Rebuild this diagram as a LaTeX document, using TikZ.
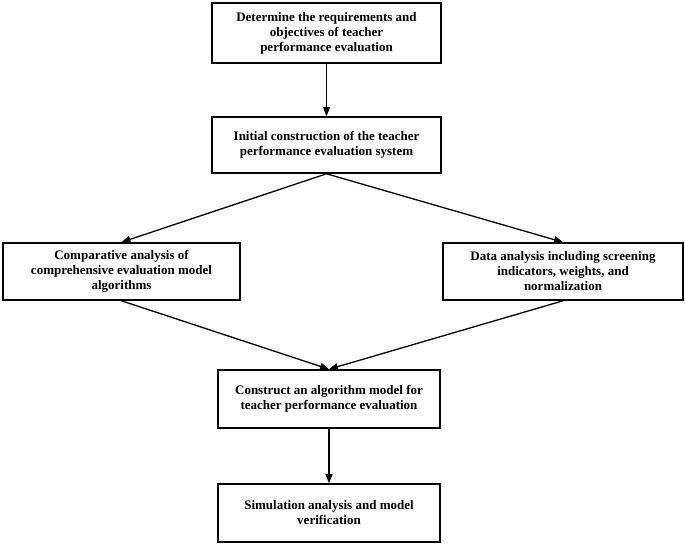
\documentclass[tikz,border=0pt]{standalone}
\usepackage{fontspec}
\setmainfont{Liberation Serif}
\usetikzlibrary{arrows.meta}
\begin{document}
\begin{tikzpicture}[x=1pt,y=-1pt,
  box/.style={draw,line width=1.6pt,inner sep=0pt,align=center,font=\fontsize{13}{15}\selectfont\bfseries},
  arr/.style={line width=1.3pt,-{Triangle[length=9pt,width=7pt]}}]
\useasboundingbox (0,0) rectangle (685,545);
\node[box,minimum width=229pt,minimum height=60pt] (a) at (326.5,33) {Determine the requirements and\\objectives of teacher\\performance evaluation};
\node[box,minimum width=229pt,minimum height=56pt] (b) at (326.5,145) {Initial construction of the teacher\\performance evaluation system};
\node[box,minimum width=237pt,minimum height=57pt] (c) at (121.5,271.5) {Comparative analysis of\\comprehensive evaluation model\\algorithms};
\node[box,minimum width=240pt,minimum height=57pt] (d) at (563,271.5) {Data analysis including screening\\indicators, weights, and\\normalization};
\node[box,minimum width=222pt,minimum height=58pt] (e) at (329,399) {Construct an algorithm model for\\teacher performance evaluation};
\node[box,minimum width=222pt,minimum height=58pt] (f) at (329,513) {Simulation analysis and model\\verification};
\draw[arr] (a.south) -- (b.north);
\draw[arr] (b.south) -- (c.north);
\draw[arr] (b.south) -- (d.north);
\draw[arr] (c.south) -- (e.north);
\draw[arr] (d.south) -- (e.north);
\draw[arr] (e.south) -- (f.north);
\end{tikzpicture}
\end{document}
